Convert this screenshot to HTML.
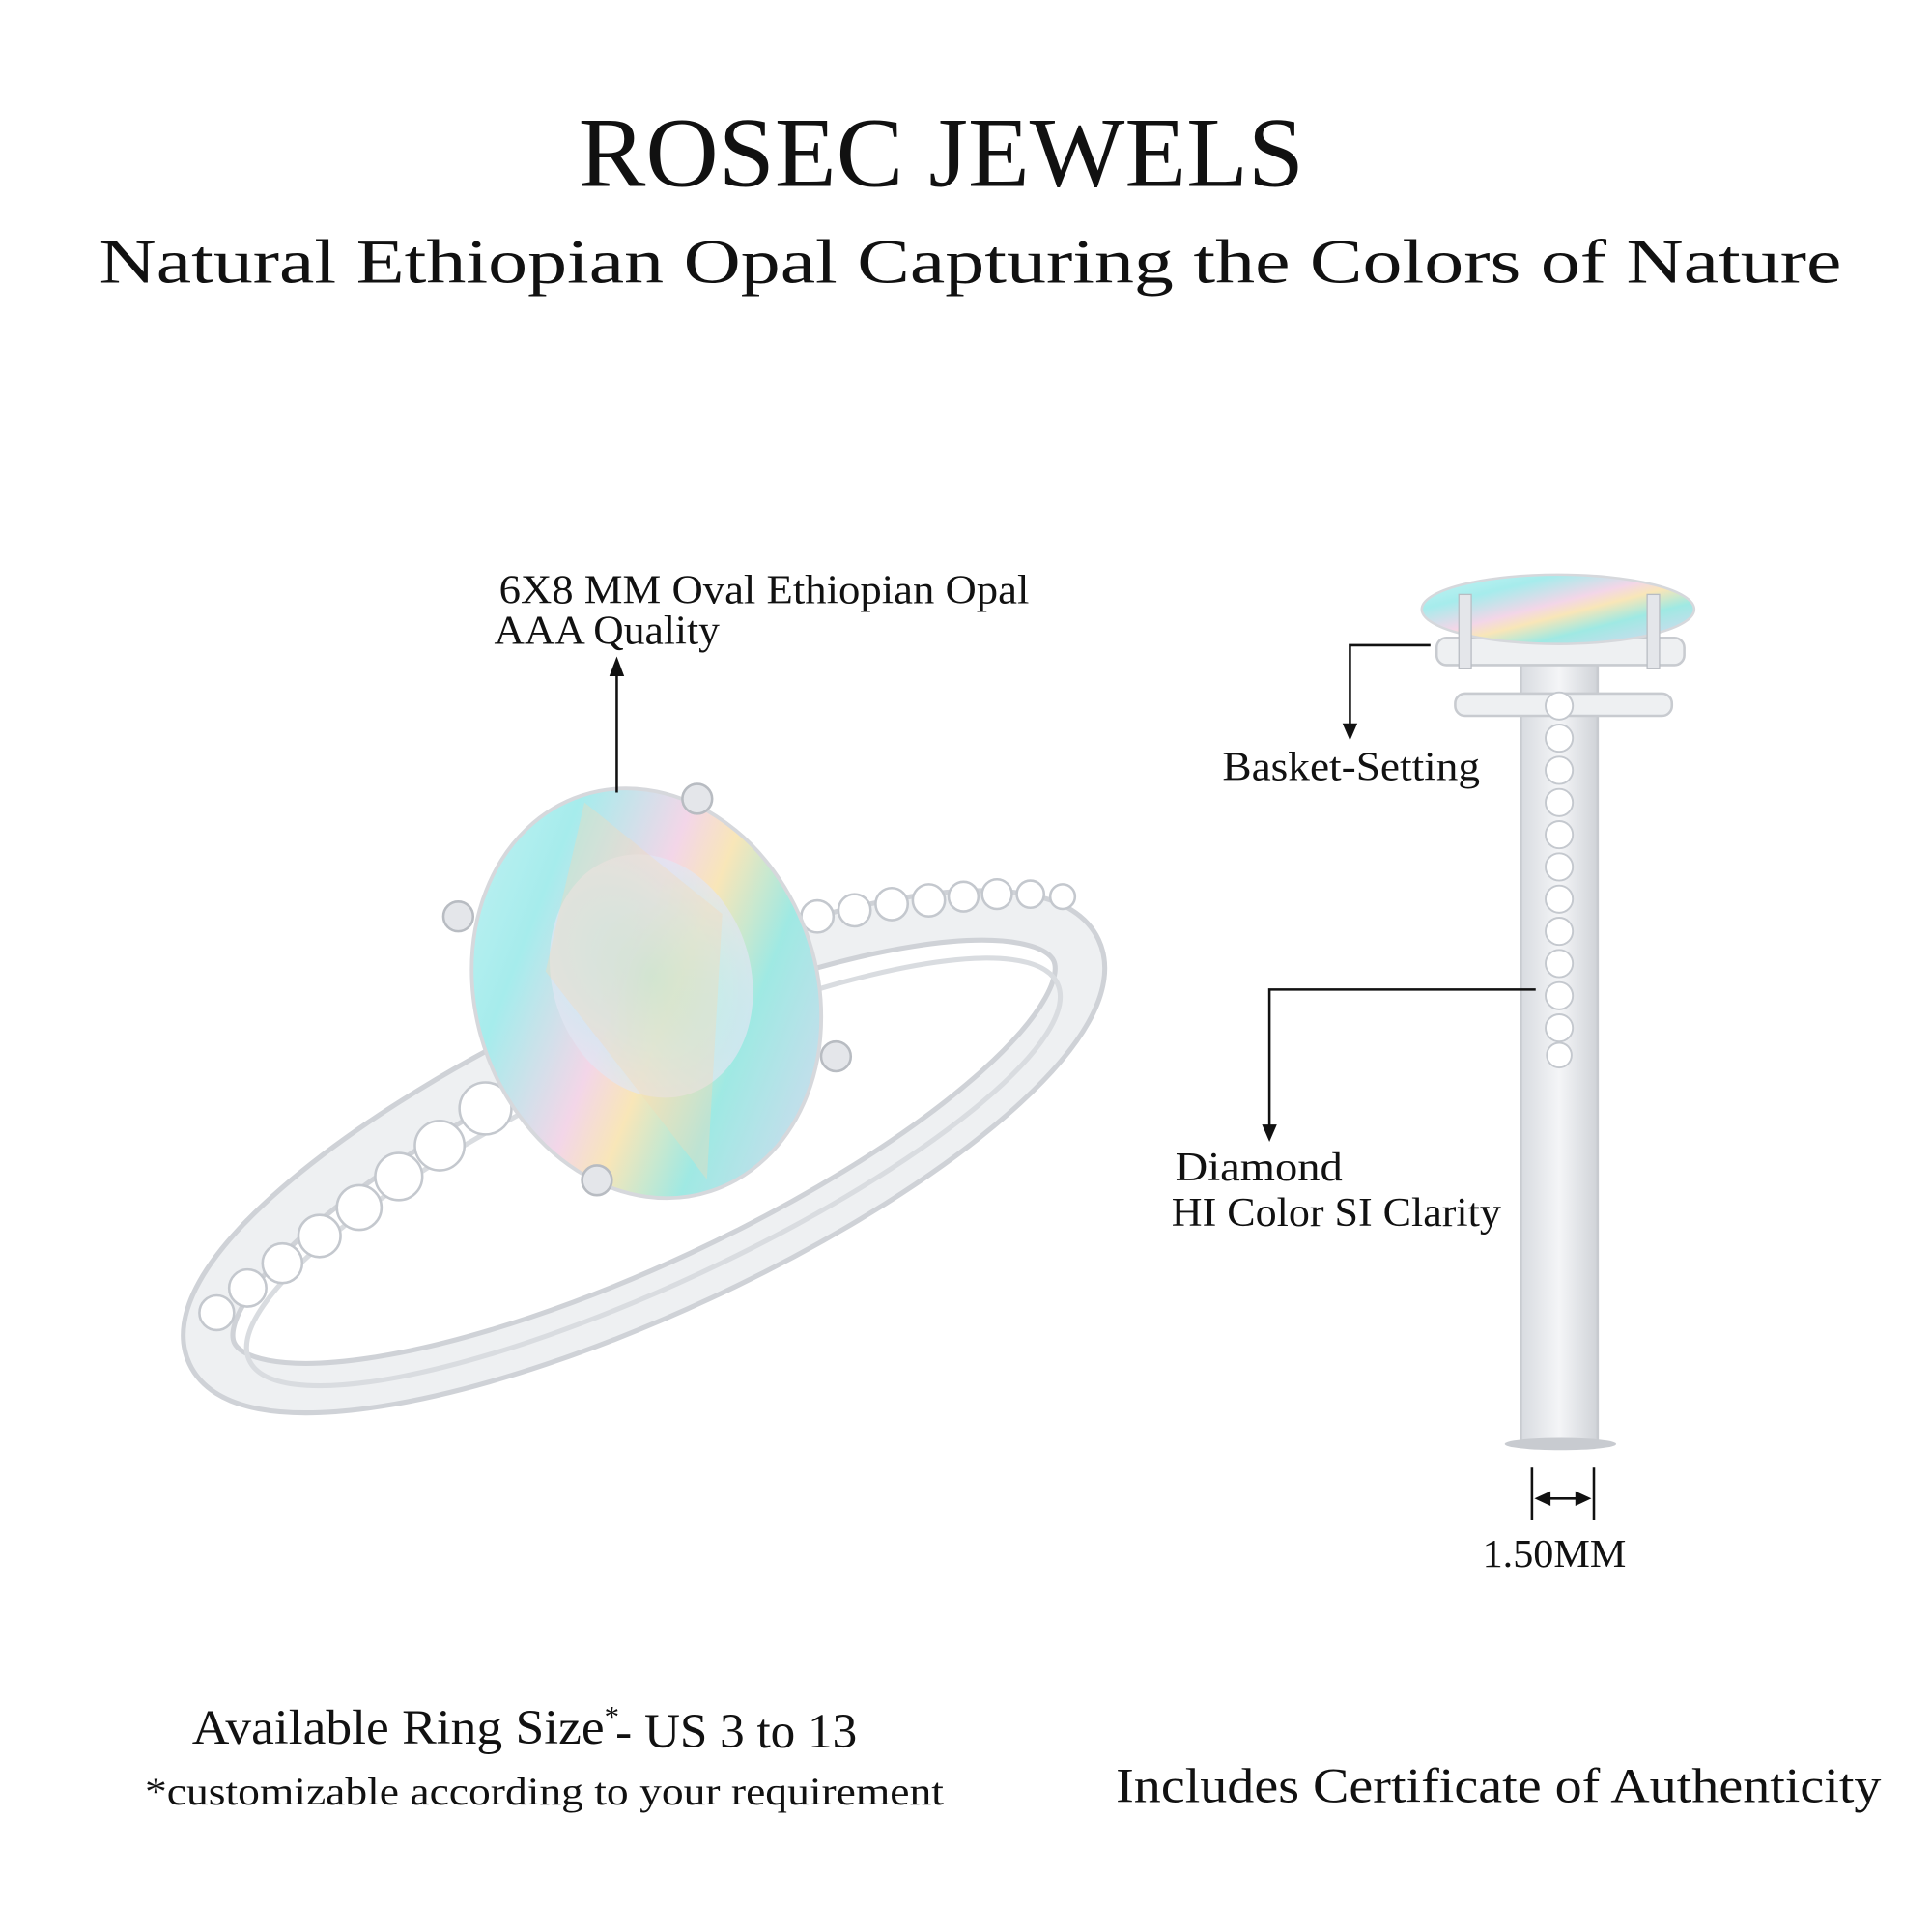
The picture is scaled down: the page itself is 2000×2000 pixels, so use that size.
<!DOCTYPE html>
<html><head><meta charset="utf-8"><style>
html,body{margin:0;padding:0;background:#fff;}
svg{display:block;}
text{font-family:"Liberation Serif","DejaVu Serif",serif;fill:#111;}
</style></head><body>
<svg width="2000" height="2000" viewBox="0 0 1560 1560" xmlns="http://www.w3.org/2000/svg">
<defs>
<linearGradient id="opal" x1="0" y1="0" x2="1" y2="1">
<stop offset="0" stop-color="#c9f3f4"/>
<stop offset="0.25" stop-color="#a6ecec"/>
<stop offset="0.45" stop-color="#f3d6e8"/>
<stop offset="0.55" stop-color="#f8e6b8"/>
<stop offset="0.7" stop-color="#9fe9e3"/>
<stop offset="1" stop-color="#e2d5f2"/>
</linearGradient>
<radialGradient id="opal2" cx="0.5" cy="0.5" r="0.6">
<stop offset="0" stop-color="#a8f0e6"/>
<stop offset="0.5" stop-color="#c5eef5"/>
<stop offset="1" stop-color="#f0e2f2"/>
</radialGradient>
<linearGradient id="metal" x1="0" y1="0" x2="1" y2="0">
<stop offset="0" stop-color="#d8dbe0"/>
<stop offset="0.5" stop-color="#f4f5f7"/>
<stop offset="1" stop-color="#d0d3d8"/>
</linearGradient>
</defs>

<text x="467" y="150" font-size="80" textLength="586" lengthAdjust="spacingAndGlyphs">ROSEC JEWELS</text>
<text x="80" y="228" font-size="50" textLength="1407" lengthAdjust="spacingAndGlyphs">Natural Ethiopian Opal Capturing the Colors of Nature</text>

<!-- main ring band -->
<g transform="rotate(-25 520 930)">
<ellipse cx="520" cy="930" rx="385" ry="110" fill="none" stroke="#cfd2d7" stroke-width="44"/>
<ellipse cx="520" cy="930" rx="385" ry="110" fill="none" stroke="#eef0f2" stroke-width="36"/>
<ellipse cx="520" cy="948" rx="360" ry="90" fill="none" stroke="#d9dce0" stroke-width="4"/>
</g>
<g fill="#fff" stroke="#c4c8ce" stroke-width="2">
<circle cx="175" cy="1060" r="14"/><circle cx="200" cy="1040" r="15"/><circle cx="228" cy="1020" r="16"/>
<circle cx="258" cy="998" r="17"/><circle cx="290" cy="975" r="18"/><circle cx="322" cy="950" r="19"/>
<circle cx="355" cy="925" r="20"/><circle cx="392" cy="895" r="21"/>
<circle cx="660" cy="740" r="13"/><circle cx="690" cy="735" r="13"/><circle cx="720" cy="730" r="13"/>
<circle cx="750" cy="727" r="13"/><circle cx="778" cy="724" r="12"/><circle cx="805" cy="722" r="12"/><circle cx="832" cy="722" r="11"/><circle cx="858" cy="724" r="10"/>
</g>
<g transform="rotate(-18 522 802)">
<ellipse cx="522" cy="802" rx="138" ry="168" fill="url(#opal)" stroke="#d6d8dc" stroke-width="3"/>
<ellipse cx="530" cy="790" rx="80" ry="100" fill="url(#opal2)" opacity="0.7"/>
<polygon points="522,640 600,760 522,960 450,760" fill="#f7d9b5" opacity="0.35"/>
</g>
<g fill="#e4e6ea" stroke="#b8bcc2" stroke-width="2">
<circle cx="563" cy="645" r="12"/><circle cx="370" cy="740" r="12"/><circle cx="675" cy="853" r="12"/><circle cx="482" cy="953" r="12"/>
</g>

<!-- side view -->
<rect x="1228" y="530" width="62" height="635" fill="url(#metal)" stroke="#c8cbd0" stroke-width="2"/>
<ellipse cx="1260" cy="1166" rx="45" ry="5" fill="#c8cbd0"/>
<rect x="1160" y="515" width="200" height="22" rx="8" fill="#eef0f2" stroke="#c8cbd0" stroke-width="2"/>
<rect x="1175" y="560" width="175" height="18" rx="8" fill="#eef0f2" stroke="#c8cbd0" stroke-width="2"/>
<ellipse cx="1258" cy="492" rx="110" ry="28" fill="url(#opal)" stroke="#d6d8dc" stroke-width="2"/>
<rect x="1178" y="480" width="10" height="60" fill="#e4e6ea" stroke="#b8bcc2"/>
<rect x="1330" y="480" width="10" height="60" fill="#e4e6ea" stroke="#b8bcc2"/>
<g fill="#fff" stroke="#c4c8ce" stroke-width="1.5">
<circle cx="1259" cy="570" r="11"/><circle cx="1259" cy="596" r="11"/><circle cx="1259" cy="622" r="11"/><circle cx="1259" cy="648" r="11"/>
<circle cx="1259" cy="674" r="11"/><circle cx="1259" cy="700" r="11"/><circle cx="1259" cy="726" r="11"/><circle cx="1259" cy="752" r="11"/>
<circle cx="1259" cy="778" r="11"/><circle cx="1259" cy="804" r="11"/><circle cx="1259" cy="830" r="11"/><circle cx="1259" cy="852" r="10"/>
</g>

<g stroke="#111" stroke-width="2" fill="none">
<line x1="498" y1="640" x2="498" y2="540"/>
<polyline points="1155,521 1090,521 1090,590"/>
<polyline points="1240,799 1025,799 1025,915"/>
<line x1="1237" y1="1185" x2="1237" y2="1227"/>
<line x1="1287" y1="1185" x2="1287" y2="1227"/>
<line x1="1247" y1="1210" x2="1277" y2="1210"/>
</g>
<g fill="#111">
<polygon points="498,530 492,546 504,546"/>
<polygon points="1090,598 1084,584 1096,584"/>
<polygon points="1025,922 1019,908 1031,908"/>
<polygon points="1239,1210 1252,1204 1252,1216"/>
<polygon points="1285,1210 1272,1204 1272,1216"/>
</g>

<text x="403" y="487" font-size="33" textLength="428" lengthAdjust="spacingAndGlyphs">6X8 MM Oval Ethiopian Opal</text>
<text x="399" y="520" font-size="33" textLength="182" lengthAdjust="spacingAndGlyphs">AAA Quality</text>
<text x="987" y="630" font-size="33" textLength="208" lengthAdjust="spacingAndGlyphs">Basket-Setting</text>
<text x="949" y="953" font-size="33" textLength="135" lengthAdjust="spacingAndGlyphs">Diamond</text>
<text x="946" y="990" font-size="33" textLength="266" lengthAdjust="spacingAndGlyphs">HI Color SI Clarity</text>
<text x="1197" y="1265" font-size="32" textLength="116" lengthAdjust="spacingAndGlyphs">1.50MM</text>
<text x="155" y="1408" font-size="40" textLength="333" lengthAdjust="spacingAndGlyphs">Available Ring Size</text>
<text x="488" y="1394" font-size="24">*</text>
<text x="497" y="1411" font-size="40" textLength="195" lengthAdjust="spacingAndGlyphs">- US 3 to 13</text>
<text x="117" y="1457" font-size="31" textLength="645" lengthAdjust="spacingAndGlyphs">*customizable according to your requirement</text>
<text x="901" y="1455" font-size="40" textLength="618" lengthAdjust="spacingAndGlyphs">Includes Certificate of Authenticity</text>
</svg>
</body></html>
